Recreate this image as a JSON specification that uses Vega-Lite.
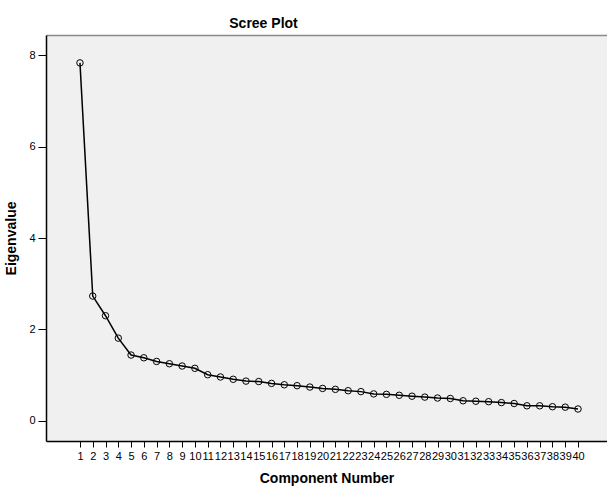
{
  "$schema": "https://vega.github.io/schema/vega-lite/v6.json",
  "width": 561,
  "height": 406,
  "autosize": {"type": "none"},
  "padding": {"left": 46, "top": 35, "right": 0, "bottom": 46},
  "background": "white",
  "title": {"text": "Scree Plot", "font": "Liberation Sans", "fontSize": 14, "fontWeight": "bold", "color": "#000", "anchor": "middle", "dx": -63, "offset": 4},
  "config": {
    "view": {"fill": "#f0f0f0", "stroke": null},
    "axis": {"labelFont": "Liberation Sans", "titleFont": "Liberation Sans", "labelColor": "#000", "titleColor": "#000", "domainColor": "#000", "tickColor": "#000", "grid": false}
  },
  "data": {"values": [
    {"component": 1, "eigenvalue": 7.83},
    {"component": 2, "eigenvalue": 2.73},
    {"component": 3, "eigenvalue": 2.30},
    {"component": 4, "eigenvalue": 1.81},
    {"component": 5, "eigenvalue": 1.44},
    {"component": 6, "eigenvalue": 1.38},
    {"component": 7, "eigenvalue": 1.30},
    {"component": 8, "eigenvalue": 1.25},
    {"component": 9, "eigenvalue": 1.20},
    {"component": 10, "eigenvalue": 1.15},
    {"component": 11, "eigenvalue": 1.01},
    {"component": 12, "eigenvalue": 0.96},
    {"component": 13, "eigenvalue": 0.91},
    {"component": 14, "eigenvalue": 0.87},
    {"component": 15, "eigenvalue": 0.86},
    {"component": 16, "eigenvalue": 0.82},
    {"component": 17, "eigenvalue": 0.79},
    {"component": 18, "eigenvalue": 0.77},
    {"component": 19, "eigenvalue": 0.74},
    {"component": 20, "eigenvalue": 0.71},
    {"component": 21, "eigenvalue": 0.69},
    {"component": 22, "eigenvalue": 0.66},
    {"component": 23, "eigenvalue": 0.64},
    {"component": 24, "eigenvalue": 0.59},
    {"component": 25, "eigenvalue": 0.58},
    {"component": 26, "eigenvalue": 0.56},
    {"component": 27, "eigenvalue": 0.54},
    {"component": 28, "eigenvalue": 0.52},
    {"component": 29, "eigenvalue": 0.50},
    {"component": 30, "eigenvalue": 0.49},
    {"component": 31, "eigenvalue": 0.44},
    {"component": 32, "eigenvalue": 0.43},
    {"component": 33, "eigenvalue": 0.42},
    {"component": 34, "eigenvalue": 0.40},
    {"component": 35, "eigenvalue": 0.38},
    {"component": 36, "eigenvalue": 0.33},
    {"component": 37, "eigenvalue": 0.33},
    {"component": 38, "eigenvalue": 0.31},
    {"component": 39, "eigenvalue": 0.30},
    {"component": 40, "eigenvalue": 0.26}
  ]},
  "resolve": {"axis": {"x": "independent"}},
  "layer": [
    {
      "mark": {"type": "line", "color": "#000", "strokeWidth": 1.5},
      "encoding": {
        "x": {"field": "component", "type": "quantitative",
          "scale": {"domain": [-1.66, 42.27], "nice": false, "zero": false},
          "axis": {"title": "Component Number", "titleFontSize": 14, "titleFontWeight": "bold", "titlePadding": 10,
            "values": [1,2,3,4,5,6,7,8,9,10,11,12,13,14,15,16,17,18,19,20,21,22,23,24,25,26,27,28,29,30,31,32,33,34,35,36,37,38,39,40],
            "labelFontSize": 11, "labelOverlap": false, "labelBound": false, "labelFlush": false, "labelPadding": 3, "tickSize": 6, "domainWidth": 1.5}},
        "y": {"field": "eigenvalue", "type": "quantitative",
          "scale": {"domain": [-0.44, 8.44], "nice": false, "zero": false},
          "axis": {"title": "Eigenvalue", "titleFontSize": 14, "titleFontWeight": "bold", "titlePadding": 10,
            "values": [0, 2, 4, 6, 8], "labelFontSize": 11, "tickSize": 8, "labelPadding": 3, "domainWidth": 1.5}}
      }
    },
    {
      "mark": {"type": "point", "shape": "circle", "filled": false, "color": "#000", "size": 42, "strokeWidth": 1, "opacity": 1},
      "encoding": {
        "x": {"field": "component", "type": "quantitative",
          "axis": {"orient": "top", "title": null, "labels": false, "ticks": false, "domainColor": "#8a8a8a", "domainWidth": 1.5}},
        "y": {"field": "eigenvalue", "type": "quantitative"}
      }
    }
  ]
}
